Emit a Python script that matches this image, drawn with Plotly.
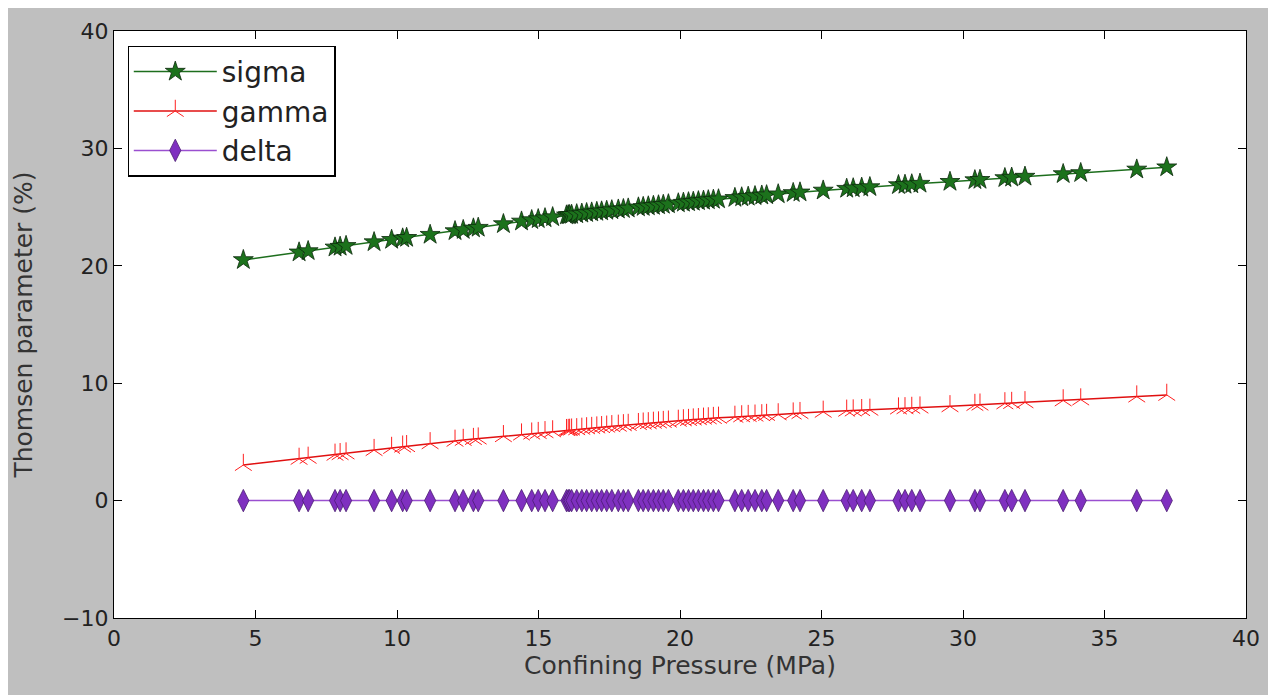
import plotly.graph_objects as go

# Confining pressure (MPa)
pressure = [
    4.57, 6.54, 6.86, 7.81, 7.99, 8.20, 9.19, 9.81, 10.20, 10.34,
    11.17, 12.05, 12.34, 12.70, 12.87, 13.76, 14.40, 14.76, 14.99, 15.23,
    15.50, 15.99, 16.05, 16.10, 16.17, 16.35, 16.53, 16.70, 16.88, 17.06,
    17.23, 17.41, 17.59, 17.82, 18.00, 18.17, 18.53, 18.70, 18.88, 19.06,
    19.24, 19.41, 19.59, 19.94, 20.12, 20.30, 20.47, 20.65, 20.83, 21.00,
    21.18, 21.36, 21.94, 22.18, 22.41, 22.65, 22.89, 23.06, 23.47, 24.00,
    24.24, 25.06, 25.89, 26.12, 26.42, 26.71, 27.72, 27.95, 28.19, 28.48,
    29.54, 30.42, 30.60, 31.48, 31.72, 32.19, 33.54, 34.16, 36.14, 37.20,
]

sigma = [
    20.50, 21.15, 21.26, 21.57, 21.63, 21.70, 22.02, 22.22, 22.34, 22.39,
    22.65, 22.96, 23.06, 23.19, 23.25, 23.56, 23.78, 23.90, 23.98, 24.06,
    24.15, 24.30, 24.32, 24.33, 24.35, 24.40, 24.45, 24.50, 24.55, 24.60,
    24.64, 24.69, 24.74, 24.80, 24.84, 24.89, 24.98, 25.02, 25.07, 25.11,
    25.16, 25.20, 25.25, 25.33, 25.38, 25.42, 25.46, 25.51, 25.55, 25.59,
    25.63, 25.67, 25.79, 25.84, 25.89, 25.94, 25.99, 26.02, 26.10, 26.21,
    26.26, 26.42, 26.57, 26.61, 26.66, 26.71, 26.88, 26.91, 26.95, 27.00,
    27.16, 27.30, 27.33, 27.48, 27.52, 27.60, 27.82, 27.91, 28.21, 28.40,
]

gamma = [
    3.03, 3.55, 3.64, 3.90, 3.95, 4.01, 4.30, 4.48, 4.59, 4.63,
    4.88, 5.09, 5.16, 5.24, 5.28, 5.48, 5.62, 5.70, 5.75, 5.82,
    5.89, 6.00, 6.01, 6.02, 6.04, 6.07, 6.11, 6.15, 6.18, 6.22,
    6.25, 6.29, 6.33, 6.37, 6.41, 6.44, 6.51, 6.55, 6.58, 6.62,
    6.65, 6.69, 6.72, 6.79, 6.83, 6.86, 6.90, 6.93, 6.97, 7.00,
    7.03, 7.05, 7.13, 7.17, 7.20, 7.23, 7.26, 7.29, 7.34, 7.41,
    7.45, 7.56, 7.65, 7.67, 7.70, 7.73, 7.84, 7.86, 7.89, 7.92,
    8.03, 8.14, 8.17, 8.28, 8.31, 8.37, 8.53, 8.61, 8.86, 9.00,
]

delta = [
    0.0, 0.0, 0.0, 0.0, 0.0, 0.0, 0.0, 0.0, 0.0, 0.0,
    0.0, 0.0, 0.0, 0.0, 0.0, 0.0, 0.0, 0.0, 0.0, 0.0,
    0.0, 0.0, 0.0, 0.0, 0.0, 0.0, 0.0, 0.0, 0.0, 0.0,
    0.0, 0.0, 0.0, 0.0, 0.0, 0.0, 0.0, 0.0, 0.0, 0.0,
    0.0, 0.0, 0.0, 0.0, 0.0, 0.0, 0.0, 0.0, 0.0, 0.0,
    0.0, 0.0, 0.0, 0.0, 0.0, 0.0, 0.0, 0.0, 0.0, 0.0,
    0.0, 0.0, 0.0, 0.0, 0.0, 0.0, 0.0, 0.0, 0.0, 0.0,
    0.0, 0.0, 0.0, 0.0, 0.0, 0.0, 0.0, 0.0, 0.0, 0.0,
]

x_ticks = [0, 5, 10, 15, 20, 25, 30, 35, 40]
y_ticks = [-10, 0, 10, 20, 30, 40]

FONT = "DejaVu Sans, Liberation Sans, sans-serif"

fig = go.Figure()

fig.add_trace(go.Scatter(
    x=pressure, y=sigma, name="sigma", mode="lines+markers",
    line=dict(color="#1d6e1d", width=1.5),
    marker=dict(symbol="star", size=15, color="#1c721c",
                line=dict(color="#0d2a0d", width=0.8)),
))

fig.add_trace(go.Scatter(
    x=pressure, y=gamma, name="gamma", mode="lines+markers",
    line=dict(color="#e01010", width=1.5),
    marker=dict(symbol="y-up-open", size=14, color="#ff2020",
                line=dict(color="#ff2a2a", width=1)),
))

fig.add_trace(go.Scatter(
    x=pressure, y=delta, name="delta", mode="lines+markers",
    line=dict(color="#9a4fd0", width=1.5),
    marker=dict(symbol="diamond-tall", size=16, color="#7f30c0",
                line=dict(color="#4a1c72", width=0.8)),
))

axis_common = dict(
    showline=True, linecolor="black", linewidth=1.2, mirror="ticks",
    ticks="inside", ticklen=8, tickwidth=1, tickcolor="black",
    showgrid=False, zeroline=False,
    tickfont=dict(family=FONT, size=22, color="#222222"),
)

fig.update_xaxes(
    range=[0, 40], tickvals=x_ticks,
    title=dict(text="Confining Pressure (MPa)", font=dict(family=FONT, size=25, color="#333333"), standoff=5),
    **axis_common,
)
fig.update_yaxes(
    range=[-10, 40], tickvals=y_ticks,
    title=dict(text="Thomsen parameter (%)", font=dict(family=FONT, size=25, color="#333333"), standoff=22),
    **axis_common,
)

fig.update_layout(
    width=1268, height=687,
    paper_bgcolor="#bfbfbf", plot_bgcolor="white",
    margin=dict(l=106, r=30, t=23, b=77),
    font=dict(family=FONT, color="#222222"),
    showlegend=True,
    legend=dict(
        x=0.012, y=0.975, xanchor="left", yanchor="top",
        bgcolor="white", bordercolor="black", borderwidth=1.2,
        font=dict(family=FONT, size=28, color="#222222"),
        itemwidth=83,
    ),
)

fig.write_html("out.html")
